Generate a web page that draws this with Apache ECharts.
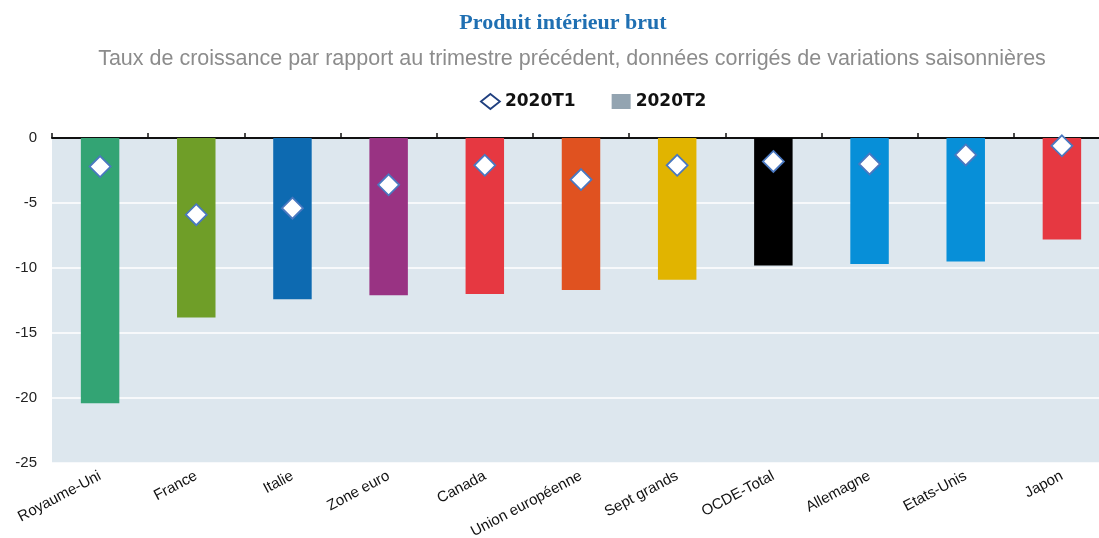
<!DOCTYPE html>
<html>
<head>
<meta charset="utf-8">
<script src="https://cdn.jsdelivr.net/npm/echarts@6/dist/echarts.min.js"></script>
<style>
  html, body { margin: 0; padding: 0; background: #fff; }
  #chart { width: 1099px; height: 538px; }
</style>
</head>
<body>
<div id="chart"></div>
<script>
const categories = ["Royaume-Uni", "France", "Italie", "Zone euro", "Canada", "Union européenne",
  "Sept grands", "OCDE-Total", "Allemagne", "Etats-Unis", "Japon"];
const t2Values = [-20.4, -13.8, -12.4, -12.1, -12.0, -11.7, -10.9, -9.8, -9.7, -9.5, -7.8];
const t1Values = [-2.2, -5.9, -5.4, -3.6, -2.1, -3.2, -2.1, -1.8, -2.0, -1.3, -0.6];
const barColors = ["#33a474", "#6f9e28", "#0d6ab1", "#993383", "#e63841", "#e05220",
  "#e1b400", "#000000", "#078fd8", "#078fd8", "#e63841"];
const yTicks = [0, -5, -10, -15, -20, -25];

const chart = echarts.init(document.getElementById("chart"));

const option = {
  animation: false,
  title: [
    {
      text: "Produit intérieur brut",
      left: 558, top: 7, textAlign: "center",
      textStyle: { fontFamily: "Liberation Serif", fontWeight: "bold", fontSize: 22, color: "#1f6fb2" },
    },
    {
      text: "Taux de croissance par rapport au trimestre précédent, données corrigés de variations saisonnières",
      left: 567, top: 43, textAlign: "center",
      textStyle: { fontFamily: "Liberation Sans", fontWeight: "normal", fontSize: 21.5, color: "#8c8c8c" },
    },
  ],
  legend: {
    top: 88, left: 475,
    itemGap: 36, itemWidth: 19, itemHeight: 15,
    textStyle: { fontFamily: "DejaVu Sans", fontWeight: "bold", fontSize: 17, color: "#111" },
    data: [
      { name: "2020T1", icon: "diamond", itemStyle: { color: "#fff", borderColor: "#1f3f7f", borderWidth: 1.8 } },
      { name: "2020T2", icon: "rect", itemStyle: { color: "#93a4b1" } },
    ],
  },
  grid: {
    left: 52, top: 138, bottom: 75, width: 1058,
    outerBoundsMode: "none",
    containLabel: false,
    show: true, backgroundColor: "#dde7ee", borderWidth: 0,
  },
  xAxis: [
    {
      type: "category",
      data: categories,
      position: "bottom",
      axisLine: { show: false, onZero: false },
      axisTick: { show: false },
      axisLabel: {
        interval: 0, rotate: 28, margin: 12,
        fontFamily: "Liberation Sans", fontSize: 15, color: "#111",
      },
    },
    {
      type: "category",
      data: categories,
      position: "top",
      axisLine: { show: true, lineStyle: { color: "#111", width: 2 } },
      axisTick: { show: true, interval: 0, length: 5, lineStyle: { color: "#111", width: 1.5 } },
      axisLabel: { show: false, interval: 0 },
    },
  ],
  yAxis: {
    type: "value",
    min: -25, max: 0, interval: 5,
    axisLine: { show: false },
    axisTick: { show: false },
    axisLabel: {
      fontFamily: "Liberation Sans", fontSize: 15, color: "#222", margin: 15,
      formatter: (v) => (yTicks.includes(v) ? String(v) : ""),
    },
    splitLine: { lineStyle: { color: "#ffffff", width: 1.5 } },
  },
  series: [
    {
      name: "2020T2",
      type: "bar",
      xAxisIndex: 0,
      barWidth: "40%",
      data: t2Values.map((v, i) => ({ value: v, itemStyle: { color: barColors[i] } })),
      itemStyle: { color: "#93a4b1" },
      z: 2,
    },
    {
      name: "2020T1",
      type: "scatter",
      xAxisIndex: 0,
      symbol: "diamond",
      symbolSize: 21,
      data: t1Values,
      itemStyle: { color: "#ffffff", borderColor: "#4a78c0", borderWidth: 1.8, opacity: 1 },
      z: 3,
    },
  ],
};

chart.setOption(option);
</script>
</body>
</html>
